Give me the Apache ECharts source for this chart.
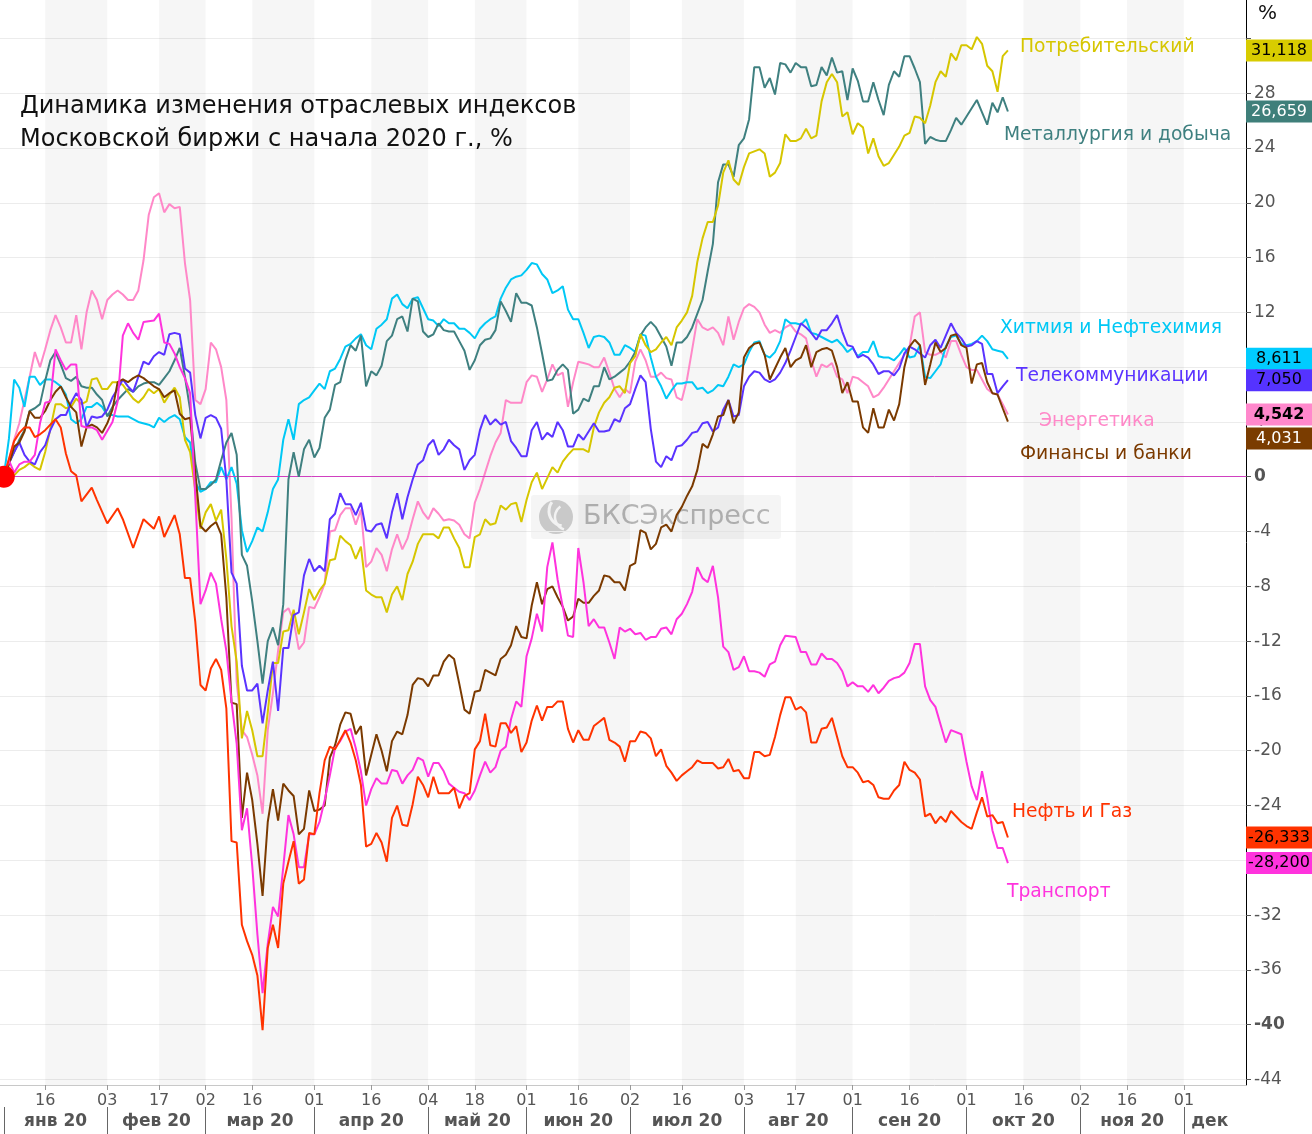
<!DOCTYPE html>
<html><head><meta charset="utf-8">
<script src="https://cdn.jsdelivr.net/npm/echarts@6/dist/echarts.min.js"></script>
<style>html,body{margin:0;padding:0;background:#fff}#c{width:1312px;height:1134px}</style>
</head><body><div id="c"></div><script>
// x = trading-day index since 03.01.2020, y = % change
const dayTickIdx  = [8,20,30,39,48,60,71,82,91,101,111,121,131,143,153,164,175,186,197,208,217,228];
const dayTickText = ['16','03','17','02','16','01','16','04','18','01','16','02','16','03','17','01','16','01','16','02','16','01'];
const monthStartIdx = [0,20,39,60,82,101,121,143,164,186,208,228];
const monthLabelIdx = [10,29.5,49.5,71,91.5,111,132,153.5,175,197,218,233];
const monthNames = ['янв 20','фев 20','мар 20','апр 20','май 20','июн 20','июл 20','авг 20','сен 20','окт 20','ноя 20','дек'];
const yTicks = [-44,-40,-36,-32,-28,-24,-20,-16,-12,-8,-4,0,4,8,12,16,20,24,28,32];
const yLabels = [-44,-40,-36,-32,-28,-24,-20,-16,-12,-8,-4,0,4,8,12,16,20,24,28];

const consumer = [[0,0],[1,0.7],[2,0.1],[3,0.5],[4,0.7],[5,1.0],[6,0.7],[7,0.5],[8,1.8],[9,3.5],[10,5.3],[11,5.3],[12,5.0],[13,5.1],[14,5.7],[15,5.3],[16,5.5],[17,7.1],[18,7.2],[19,6.4],[20,6.4],[21,6.9],[22,6.9],[23,6.7],[24,6.2],[25,5.7],[26,5.4],[27,5.8],[28,6.4],[29,6.1],[30,6.4],[31,5.4],[32,6.0],[33,6.5],[34,5.8],[35,2.7],[36,1.8],[37,-1.0],[38,-3.8],[39,-2.6],[40,-2.0],[41,-3.2],[42,-2.4],[43,-6.0],[44,-10.9],[45,-13.5],[46,-19.1],[47,-17.1],[48,-18.5],[49,-20.4],[50,-20.4],[51,-17.2],[52,-13.6],[53,-13.6],[54,-11.3],[55,-11.2],[56,-9.7],[57,-11.5],[58,-9.9],[59,-8.2],[60,-9.0],[61,-8.3],[62,-7.8],[63,-6.1],[64,-6.0],[65,-4.3],[66,-4.7],[67,-5.0],[68,-6.0],[69,-5.1],[70,-8.3],[71,-8.6],[72,-8.8],[73,-8.8],[74,-9.9],[75,-8.6],[76,-8.0],[77,-9.0],[78,-7.1],[79,-6.2],[80,-4.9],[81,-4.2],[82,-4.2],[83,-4.2],[84,-4.5],[85,-3.7],[86,-3.7],[87,-4.5],[88,-5.2],[89,-6.6],[90,-6.6],[91,-4.4],[92,-4.2],[93,-3.1],[94,-3.5],[95,-3.4],[96,-2.1],[97,-2.4],[98,-2.0],[99,-1.9],[100,-3.3],[101,-1.7],[102,-0.4],[103,0.3],[104,-0.9],[105,-0.1],[106,0.7],[107,0.3],[108,1.1],[109,1.6],[110,2.0],[111,2.0],[112,2.0],[113,1.8],[114,3.6],[115,4.7],[116,5.4],[117,5.8],[118,6.5],[119,6.6],[120,6.1],[121,8.3],[122,8.8],[123,10.4],[124,9.6],[125,9.1],[126,9.3],[127,9.8],[128,10.2],[129,9.6],[130,10.9],[131,11.4],[132,12.0],[133,13.2],[134,15.7],[135,17.4],[136,18.6],[137,18.6],[138,19.8],[139,22.2],[140,23.1],[141,21.7],[142,21.3],[143,22.6],[144,23.6],[146,23.9],[147,23.6],[148,21.9],[149,22.2],[150,22.9],[151,25.0],[152,24.5],[153,24.5],[154,24.7],[155,25.4],[156,24.7],[157,24.9],[158,27.4],[159,28.8],[160,29.4],[161,28.8],[162,26.3],[163,26.6],[164,25.0],[165,25.8],[166,25.5],[167,23.6],[168,24.7],[169,23.4],[170,22.7],[171,22.9],[172,23.5],[173,24.1],[174,24.9],[175,25.1],[176,26.3],[177,26.2],[178,25.8],[179,27.1],[180,28.8],[181,29.6],[182,29.2],[183,30.9],[184,30.4],[185,31.5],[186,31.5],[187,31.2],[188,32.1],[189,31.6],[190,30.0],[191,29.6],[192,28.1],[193,30.7],[194,31.118]];

const metals = [[0,0],[1,1.0],[2,1.8],[3,2.7],[4,3.4],[5,4.8],[6,5.0],[7,5.3],[8,7.0],[9,8.5],[10,9.1],[11,8.2],[12,7.2],[13,7.0],[14,7.3],[15,6.6],[16,6.5],[17,6.5],[18,6.0],[19,5.6],[20,4.4],[21,5.1],[22,5.6],[23,6.0],[24,6.4],[25,6.2],[26,6.6],[27,6.8],[28,6.9],[29,6.9],[30,6.7],[31,7.2],[32,7.7],[33,8.5],[34,9.4],[35,7.3],[36,4.9],[37,1.0],[38,-0.9],[39,-0.9],[40,-0.6],[41,-0.2],[42,1.2],[43,2.5],[44,3.2],[45,1.6],[46,-5.7],[47,-6.5],[48,-9.1],[49,-12.0],[50,-15.1],[51,-12.0],[52,-11.0],[53,-12.3],[54,-9.3],[55,-0.2],[56,1.8],[57,0],[58,2.0],[59,2.7],[60,1.4],[61,2.1],[62,4.3],[63,4.9],[64,6.7],[65,6.9],[66,8.5],[67,9.6],[68,9.2],[69,10.3],[70,6.6],[71,7.7],[72,7.4],[73,8.1],[74,9.9],[75,10.3],[76,11.5],[77,11.7],[78,10.6],[79,13.0],[80,12.8],[81,10.6],[82,10.2],[83,10.4],[84,11.2],[85,10.7],[86,10.6],[87,10.6],[88,9.9],[89,9.2],[90,7.8],[91,8.5],[92,9.6],[93,10.0],[94,10.1],[95,10.7],[96,12.8],[97,12.1],[98,11.3],[99,13.4],[100,12.7],[101,12.7],[102,12.5],[103,10.9],[104,9.0],[105,7.0],[106,7.1],[107,7.8],[108,8.2],[109,7.8],[110,4.6],[111,4.9],[112,5.7],[113,5.5],[114,6.6],[115,6.6],[116,8.0],[117,7.1],[118,7.3],[119,7.6],[120,7.9],[121,8.4],[122,9.1],[123,10.3],[124,10.9],[125,11.3],[126,10.9],[127,10.2],[128,9.5],[129,8.1],[130,9.8],[131,9.8],[132,10.2],[133,10.9],[134,11.9],[135,12.9],[136,15.0],[137,17.0],[138,21.5],[139,22.8],[140,22.8],[141,21.9],[142,24.2],[143,24.7],[144,26.1],[145,29.9],[146,29.9],[147,28.4],[148,29.1],[149,27.9],[150,30.2],[151,30.1],[152,29.5],[153,30.2],[154,29.9],[155,29.9],[156,28.5],[157,28.6],[158,29.9],[159,29.3],[160,30.6],[161,29.5],[162,29.6],[163,27.5],[164,29.8],[165,28.9],[166,27.4],[167,27.4],[168,28.8],[169,27.5],[170,26.4],[171,28.6],[172,29.6],[173,29.2],[174,30.7],[175,30.7],[176,29.8],[177,28.8],[178,24.3],[179,24.8],[180,24.6],[181,24.5],[182,24.5],[183,25.3],[184,26.2],[185,25.7],[186,26.3],[187,26.9],[188,27.5],[189,26.6],[190,25.7],[191,27.3],[192,26.6],[193,27.7],[194,26.659]];

const chem = [[0,0],[1,2.8],[2,7.1],[3,6.5],[4,5.1],[5,7.3],[6,7.3],[7,6.7],[8,7.1],[9,7.1],[10,6.9],[11,6.6],[12,6.0],[13,4.2],[14,3.9],[15,4.2],[16,5.1],[17,5.1],[18,5.4],[19,5.1],[20,4.5],[21,4.5],[22,4.4],[24,4.4],[25,4.2],[26,4.0],[28,3.8],[29,3.6],[30,4.3],[31,4.0],[32,4.3],[33,4.5],[34,4.2],[35,2.9],[36,2.5],[37,-0.4],[38,-1.1],[39,-0.9],[40,-0.4],[41,-0.4],[42,0.7],[43,-0.2],[44,0.7],[45,-0.5],[46,-3.9],[47,-5.5],[48,-4.7],[49,-3.7],[50,-4.0],[51,-2.6],[52,-0.9],[53,-0.2],[54,2.7],[55,4.2],[56,2.7],[57,5.3],[58,5.6],[59,5.8],[60,6.3],[61,6.8],[62,6.4],[63,7.7],[64,7.9],[65,8.6],[66,9.5],[67,9.7],[68,10.1],[69,10.4],[70,9.6],[71,9.3],[72,10.8],[73,11.1],[74,11.5],[75,13.0],[76,13.3],[77,12.6],[78,12.3],[79,13.0],[80,13.1],[81,12.3],[82,11.5],[83,11.4],[84,11.0],[85,11.5],[86,11.2],[87,11.2],[88,10.8],[89,10.8],[90,10.5],[91,10.1],[92,10.8],[93,11.2],[94,11.5],[95,11.7],[96,13.0],[97,13.8],[98,14.4],[99,14.6],[100,14.7],[101,15.1],[102,15.6],[103,15.5],[104,14.8],[105,14.4],[106,13.4],[107,13.6],[108,13.9],[109,12.2],[110,11.5],[111,11.5],[112,10.5],[113,9.4],[114,10.2],[115,10.3],[116,10.2],[117,9.8],[118,8.9],[119,8.9],[120,9.6],[121,9.4],[122,9.1],[123,10.4],[124,10.3],[125,8.7],[126,7.3],[127,6.6],[128,5.7],[129,6.3],[130,6.8],[131,6.8],[132,6.9],[133,6.9],[134,6.4],[135,6.5],[136,6.1],[137,6.3],[138,6.7],[139,6.6],[140,7.3],[141,8.2],[142,8.0],[143,8.2],[144,9.1],[145,9.8],[146,9.9],[147,8.9],[148,8.7],[149,9.1],[150,9.9],[151,11.5],[152,11.2],[153,11.2],[154,11.1],[155,11.5],[156,10.5],[157,10.4],[158,10.2],[159,10.0],[160,9.8],[161,10.0],[162,9.6],[163,9.1],[164,9.4],[165,8.8],[166,9.1],[167,9.1],[168,9.9],[169,8.8],[170,8.7],[171,8.7],[172,8.5],[173,8.9],[174,9.4],[175,8.7],[176,8.8],[177,9.6],[178,7.3],[179,7.2],[180,7.7],[181,8.2],[182,9.5],[183,10.2],[184,10.3],[185,9.7],[186,9.6],[187,9.7],[188,9.9],[189,10.3],[190,9.9],[191,9.3],[192,9.2],[193,9.1],[194,8.611]];

const telecom = [[0,0],[1,1.0],[2,1.8],[3,2.5],[4,1.6],[5,1.1],[6,0.9],[7,1.8],[8,2.3],[9,3.4],[10,4.2],[11,4.5],[12,4.5],[13,5.4],[14,6.1],[15,5.6],[16,3.6],[17,4.4],[18,4.3],[19,4.4],[20,4.9],[21,5.8],[22,6.4],[23,7.1],[24,6.6],[25,6.2],[26,7.3],[27,8.4],[28,8.2],[29,8.8],[30,9.1],[31,8.9],[32,10.4],[33,10.5],[34,10.4],[35,7.9],[36,7.6],[37,4.5],[38,2.8],[39,4.3],[40,4.5],[41,4.3],[42,3.5],[43,-0.2],[44,-7.0],[45,-7.8],[46,-13.8],[47,-15.6],[48,-15.6],[49,-15.1],[50,-18.0],[51,-15.6],[52,-13.5],[53,-17.1],[54,-12.5],[55,-12.5],[56,-10.1],[57,-9.9],[58,-7.2],[59,-6.0],[60,-6.9],[61,-6.5],[62,-6.9],[63,-3.1],[64,-2.7],[65,-1.2],[66,-2.0],[67,-2.0],[68,-2.8],[69,-1.9],[70,-3.9],[71,-4.0],[72,-3.5],[73,-3.4],[74,-4.5],[75,-2.6],[76,-1.2],[77,-3.1],[78,-1.5],[79,-0.2],[80,0.9],[81,1.2],[82,2.3],[83,2.7],[84,1.6],[85,2.0],[86,2.7],[87,2.3],[88,2.0],[89,0.5],[90,1.2],[91,1.6],[92,3.4],[93,4.5],[94,3.8],[95,4.2],[96,3.8],[97,4.0],[98,2.6],[99,2.1],[100,1.5],[101,1.5],[102,3.4],[103,4.0],[104,2.7],[105,3.2],[106,2.9],[107,4.0],[108,3.4],[109,2.2],[110,2.2],[111,3.1],[112,2.7],[113,3.3],[114,3.9],[115,3.3],[116,3.3],[117,3.4],[118,4.2],[119,4.0],[120,5.0],[121,5.3],[122,6.4],[123,7.4],[124,6.9],[125,3.5],[126,1.1],[127,0.7],[128,1.5],[129,1.2],[130,2.2],[131,2.3],[132,2.7],[133,3.2],[134,3.3],[135,3.9],[136,4.0],[137,3.3],[138,3.6],[139,4.9],[140,5.6],[141,4.4],[142,4.5],[143,6.6],[144,7.3],[145,7.7],[146,7.6],[147,7.1],[148,6.9],[149,7.1],[150,7.6],[151,8.3],[152,9.2],[153,10.2],[154,11.2],[155,10.9],[156,10.5],[157,10.0],[158,10.7],[159,10.7],[160,11.2],[161,11.8],[162,10.6],[163,9.6],[164,9.5],[165,8.7],[166,8.9],[167,8.7],[168,8.2],[169,7.5],[170,7.7],[171,7.7],[172,7.4],[173,7.9],[174,9.0],[175,9.5],[176,9.3],[177,9.0],[178,8.7],[179,9.6],[180,10.0],[181,9.4],[182,10.3],[183,11.2],[184,10.5],[185,10.1],[186,9.5],[187,9.6],[188,9.9],[189,9.7],[190,7.5],[191,7.5],[192,6.1],[193,6.6],[194,7.05]];

const energy = [[0,0],[1,1.2],[2,2.7],[3,3.9],[4,5.6],[5,7.3],[6,9.1],[7,8.0],[8,9.3],[9,10.7],[10,11.8],[11,10.9],[12,9.8],[13,9.8],[14,11.8],[15,9.3],[16,12.0],[17,13.6],[18,12.9],[19,11.5],[20,12.9],[21,13.3],[22,13.6],[23,13.3],[24,12.9],[25,12.9],[26,13.6],[27,15.8],[28,19.1],[29,20.4],[30,20.7],[31,19.3],[32,19.9],[33,19.6],[34,19.7],[35,15.6],[36,12.9],[37,5.6],[38,5.3],[39,6.4],[40,9.8],[41,9.3],[42,8.0],[43,5.6],[44,-3.0],[45,-15.0],[46,-18.5],[47,-19.0],[48,-20.3],[49,-21.8],[50,-24.6],[51,-18.5],[52,-15.8],[53,-12.7],[54,-9.9],[55,-9.6],[56,-10.5],[57,-12.6],[58,-12.1],[59,-9.5],[60,-9.6],[61,-8.8],[62,-7.8],[63,-4.0],[64,-3.9],[65,-2.8],[66,-2.3],[67,-2.3],[68,-3.5],[69,-2.4],[70,-6.6],[71,-6.2],[72,-5.2],[73,-5.7],[74,-6.9],[75,-5.3],[76,-4.2],[77,-5.3],[78,-4.5],[79,-3.1],[80,-1.8],[81,-2.6],[82,-3.1],[83,-2.3],[84,-2.7],[85,-3.2],[86,-3.1],[87,-3.2],[88,-3.5],[89,-4.2],[90,-4.5],[91,-1.9],[92,-0.9],[93,0.3],[94,1.5],[95,2.5],[96,3.2],[97,5.6],[98,5.4],[100,5.4],[101,6.9],[102,7.4],[103,7.3],[104,6.2],[105,7.1],[106,8.2],[107,7.4],[108,7.6],[109,5.1],[110,6.9],[111,8.4],[112,8.3],[113,8.2],[114,8.0],[115,8.0],[116,8.7],[117,7.6],[118,6.4],[119,5.8],[120,6.4],[121,6.1],[122,8.4],[123,9.3],[124,8.5],[125,7.3],[126,7.3],[127,7.6],[128,7.2],[129,7.1],[130,5.8],[131,5.6],[132,7.1],[133,9.3],[134,11.5],[135,10.9],[136,10.7],[137,10.9],[138,10.5],[139,9.6],[140,11.7],[141,10.0],[142,11.3],[143,12.3],[144,12.6],[145,12.4],[146,12.0],[147,11.1],[148,10.5],[149,10.7],[150,10.5],[151,10.9],[152,11.1],[153,10.6],[154,10.4],[155,10.1],[156,8.5],[157,7.3],[158,8.2],[159,8.0],[160,8.3],[161,7.3],[162,7.1],[163,6.1],[164,7.3],[165,7.2],[166,6.9],[167,6.6],[168,5.8],[169,6.0],[170,6.5],[171,7.1],[172,7.7],[173,8.3],[174,8.9],[175,9.5],[176,11.7],[177,12.0],[178,9.1],[179,8.9],[180,8.9],[181,9.1],[182,8.7],[183,9.9],[184,9.9],[185,8.9],[186,8.0],[187,7.8],[188,7.8],[189,7.1],[190,6.4],[191,6.1],[192,6.0],[193,5.3],[194,4.542]];

const finance = [[0,0],[1,0.9],[2,2.2],[3,2.5],[4,3.3],[5,4.8],[6,4.3],[7,4.3],[8,4.8],[9,5.6],[10,6.2],[11,6.6],[12,5.8],[13,5.1],[14,4.7],[15,2.2],[16,3.6],[17,3.8],[18,3.6],[19,3.2],[20,3.9],[21,4.9],[22,6.9],[23,7.1],[24,6.9],[25,7.2],[26,7.4],[27,7.2],[28,6.9],[29,6.6],[30,6.4],[31,5.8],[32,6.1],[33,6.3],[34,4.6],[35,4.2],[36,4.3],[37,0.3],[38,-3.6],[39,-4.0],[40,-3.6],[41,-3.3],[42,-4.2],[43,-8.8],[44,-16.5],[45,-16.6],[46,-24.9],[47,-21.6],[48,-23.6],[49,-26.8],[50,-30.6],[51,-25.2],[52,-22.8],[53,-25.1],[54,-22.4],[55,-22.9],[56,-23.3],[57,-26.1],[58,-25.7],[59,-22.9],[60,-24.4],[61,-24.3],[62,-24.0],[63,-20.5],[64,-19.6],[65,-18.1],[66,-17.2],[67,-17.3],[68,-18.8],[69,-18.2],[70,-21.8],[71,-20.3],[72,-18.8],[73,-20.0],[74,-21.5],[75,-19.3],[76,-18.6],[77,-18.8],[78,-17.4],[79,-15.2],[80,-14.7],[81,-14.8],[82,-15.3],[83,-14.5],[84,-14.5],[85,-13.5],[86,-13.0],[87,-13.3],[88,-15.1],[89,-17.0],[90,-17.3],[91,-15.7],[92,-15.6],[93,-14.1],[94,-14.3],[95,-14.5],[96,-13.3],[97,-13.0],[98,-12.3],[99,-10.9],[100,-11.7],[101,-11.8],[102,-9.4],[103,-7.7],[104,-9.3],[105,-8.2],[106,-8.0],[107,-8.8],[108,-9.5],[109,-10.5],[110,-10.2],[111,-8.9],[112,-9.2],[113,-9.2],[114,-8.7],[115,-8.3],[116,-7.2],[117,-7.3],[118,-7.7],[119,-7.7],[120,-8.3],[121,-6.5],[122,-6.3],[123,-3.9],[124,-4.1],[125,-5.3],[126,-4.9],[127,-3.7],[128,-3.5],[129,-4.0],[130,-2.8],[131,-2.2],[132,-1.4],[133,-0.7],[134,0.5],[135,2.4],[136,2.1],[137,3.1],[138,4.4],[139,4.5],[140,5.6],[141,3.9],[142,4.7],[143,8.7],[144,9.4],[145,9.7],[146,9.8],[147,8.9],[148,7.1],[149,7.9],[150,8.7],[151,9.4],[152,8.0],[153,8.5],[154,8.7],[155,9.6],[156,8.0],[157,9.1],[158,9.3],[159,9.4],[160,9.2],[161,8.0],[162,6.1],[163,6.9],[164,5.5],[165,5.5],[166,3.6],[167,3.2],[168,5.0],[169,3.6],[170,3.6],[171,4.9],[172,4.1],[173,5.3],[174,8.0],[175,9.5],[176,10.0],[177,9.6],[178,6.7],[179,8.2],[180,9.8],[181,9.1],[182,9.4],[183,10.3],[184,10.4],[185,9.6],[186,9.4],[187,6.8],[188,8.2],[189,8.3],[190,6.9],[191,6.1],[192,6.0],[193,5.0],[194,4.031]];

const oilGas = [[0,0],[2,2.6],[3,3.2],[4,3.6],[5,3.6],[6,2.9],[7,3.1],[8,3.4],[9,3.8],[10,4.2],[11,3.6],[12,1.7],[13,0.4],[14,0.1],[15,-1.8],[17,-0.8],[18,-1.7],[20,-3.4],[22,-2.3],[23,-3.1],[25,-5.2],[27,-3.1],[29,-3.8],[30,-2.9],[31,-4.4],[33,-2.8],[34,-4.2],[35,-7.4],[36,-7.4],[37,-10.6],[38,-15.2],[39,-15.6],[40,-14.0],[41,-13.3],[42,-14.1],[43,-16.9],[44,-26.6],[45,-26.7],[46,-32.7],[47,-33.9],[48,-34.9],[49,-36.4],[50,-40.4],[51,-34.4],[52,-32.7],[53,-34.4],[54,-29.7],[55,-28.1],[56,-26.6],[57,-29.7],[58,-29.4],[59,-26.0],[60,-26.1],[61,-23.1],[62,-20.7],[63,-19.7],[64,-19.9],[66,-18.5],[67,-19.4],[68,-20.7],[69,-22.5],[70,-27.0],[71,-26.8],[72,-26.0],[73,-26.7],[74,-28.1],[75,-24.9],[76,-24.0],[77,-25.4],[78,-25.5],[79,-23.9],[80,-21.9],[81,-22.5],[82,-23.4],[83,-21.9],[84,-23.1],[86,-23.1],[87,-22.7],[88,-24.2],[89,-23.3],[90,-23.1],[91,-19.9],[92,-19.3],[93,-17.3],[94,-19.6],[95,-19.7],[96,-18.0],[97,-18.0],[98,-18.7],[99,-18.2],[100,-20.1],[101,-19.4],[102,-17.8],[103,-16.7],[104,-17.8],[105,-16.8],[106,-16.8],[107,-16.4],[108,-16.4],[109,-18.4],[110,-19.4],[111,-18.5],[112,-19.2],[113,-19.2],[114,-18.2],[115,-17.9],[116,-17.6],[117,-19.2],[118,-19.4],[119,-19.7],[120,-20.8],[121,-19.3],[122,-19.3],[123,-18.6],[124,-18.7],[125,-19.1],[126,-20.4],[127,-19.9],[128,-21.1],[129,-21.6],[130,-22.2],[131,-21.8],[132,-21.5],[133,-21.2],[134,-20.7],[135,-20.9],[137,-20.9],[138,-21.3],[139,-21.2],[140,-20.6],[141,-21.5],[142,-21.4],[143,-22.0],[144,-22.0],[145,-20.1],[146,-20.1],[147,-20.4],[148,-20.3],[149,-19.0],[150,-17.4],[151,-16.1],[152,-16.1],[153,-17.0],[154,-16.8],[155,-17.2],[156,-19.4],[157,-19.4],[158,-18.4],[159,-18.3],[160,-17.6],[161,-19.0],[162,-20.4],[163,-21.2],[164,-21.2],[165,-21.6],[166,-22.3],[167,-22.2],[168,-22.5],[169,-23.4],[170,-23.5],[171,-23.5],[172,-22.9],[173,-22.5],[174,-20.8],[175,-21.4],[176,-21.6],[177,-22.1],[178,-24.8],[179,-24.6],[180,-25.3],[181,-24.8],[182,-25.2],[183,-24.4],[184,-24.8],[185,-25.2],[186,-25.5],[187,-25.7],[188,-24.5],[189,-23.4],[190,-24.8],[191,-24.7],[192,-25.3],[193,-25.2],[194,-26.333]];

const transport = [[0,0],[1,1.2],[2,0.3],[3,0.9],[4,1.1],[5,1.1],[6,1.6],[7,3.9],[8,5.4],[9,5.5],[10,9.3],[11,8.5],[12,7.8],[13,8.2],[14,8.2],[15,3.7],[16,3.6],[17,3.6],[18,3.4],[19,2.7],[21,4.0],[22,5.5],[23,10.3],[24,11.2],[25,10.5],[26,10.0],[27,11.3],[29,11.4],[30,11.9],[31,9.8],[32,9.7],[33,9.0],[34,8.0],[35,7.2],[36,6.1],[37,-1.5],[38,-9.3],[39,-8.3],[40,-7.0],[41,-7.8],[42,-10.4],[43,-12.7],[44,-16.4],[45,-19.5],[46,-25.8],[47,-24.2],[48,-28.4],[49,-33.4],[50,-37.7],[51,-34.1],[52,-31.4],[53,-32.1],[54,-28.5],[55,-24.7],[56,-26.1],[57,-28.5],[58,-28.5],[59,-26.1],[60,-26.1],[61,-25.2],[62,-23.6],[63,-21.8],[64,-19.8],[65,-19.3],[66,-18.6],[67,-18.4],[68,-19.8],[69,-21.5],[70,-24.0],[71,-22.8],[72,-22.0],[73,-22.4],[74,-22.4],[75,-21.4],[76,-21.5],[77,-22.4],[78,-21.8],[79,-21.4],[80,-20.5],[81,-20.7],[82,-21.9],[83,-20.9],[84,-20.9],[85,-21.5],[86,-22.4],[87,-22.7],[88,-23.0],[89,-23.1],[90,-23.6],[91,-22.9],[92,-21.8],[93,-20.8],[94,-21.6],[95,-21.2],[96,-20.0],[97,-19.7],[98,-17.7],[99,-16.4],[100,-16.8],[101,-13.1],[102,-11.8],[103,-10.0],[104,-11.3],[105,-6.6],[106,-4.8],[107,-7.5],[108,-9.5],[109,-11.6],[110,-11.7],[111,-5.2],[112,-7.7],[113,-10.9],[114,-10.4],[115,-11.0],[116,-11.0],[117,-12.1],[118,-13.3],[119,-11.0],[120,-11.3],[121,-11.1],[122,-11.5],[123,-11.4],[124,-11.9],[125,-11.7],[126,-11.7],[127,-11.1],[128,-11.0],[129,-11.5],[130,-10.4],[131,-10.0],[132,-9.3],[133,-8.4],[134,-6.6],[135,-7.4],[136,-7.7],[137,-6.5],[138,-8.8],[139,-12.4],[140,-12.8],[141,-14.1],[142,-13.9],[143,-13.1],[144,-14.2],[145,-14.2],[146,-14.3],[147,-14.6],[148,-13.7],[149,-13.5],[150,-12.3],[151,-11.6],[153,-11.7],[154,-12.8],[155,-12.8],[156,-13.7],[157,-13.7],[158,-12.9],[159,-13.3],[160,-13.3],[161,-13.6],[162,-14.2],[163,-15.3],[164,-15.0],[165,-15.3],[166,-15.3],[167,-15.7],[168,-15.2],[169,-15.8],[170,-15.4],[171,-14.9],[172,-14.7],[173,-14.6],[174,-14.3],[175,-13.6],[176,-12.2],[177,-12.2],[178,-15.3],[179,-16.3],[180,-16.8],[181,-18.1],[182,-19.4],[183,-18.5],[185,-18.8],[186,-20.8],[187,-22.6],[188,-23.6],[189,-21.5],[190,-23.4],[191,-25.8],[192,-27.1],[193,-27.1],[194,-28.2]];

const X_MIN = -0.73, X_MAX = 240, Y_MIN = -44.4, Y_MAX = 34.8;
const FONT = 'DejaVu Sans';

const defs = [
  {name:'Энергетика', data:energy, color:'#ff88c8', box:'#ff88cc', txt:'#000', bold:true, dy:0},
  {name:'Хитмия и Нефтехимия', data:chem, color:'#00c8f5', box:'#00ccff', txt:'#000', bold:false, dy:0},
  {name:'Металлургия и добыча', data:metals, color:'#3f8080', box:'#3f7f7a', txt:'#fff', bold:false, dy:0},
  {name:'Потребительский', data:consumer, color:'#d6c600', box:'#d8cc00', txt:'#000', bold:false, dy:0},
  {name:'Телекоммуникации', data:telecom, color:'#5a33ff', box:'#5533ff', txt:'#000', bold:false, dy:0},
  {name:'Финансы и банки', data:finance, color:'#7b3a00', box:'#7a3c00', txt:'#fff', bold:false, dy:17},
  {name:'Транспорт', data:transport, color:'#ff33dd', box:'#ff33dd', txt:'#000', bold:false, dy:0},
  {name:'Нефть и Газ', data:oilGas, color:'#ff3300', box:'#ff3300', txt:'#000', bold:false, dy:0}
];

const bands = [];
for (let i = 0; i + 1 < dayTickIdx.length; i += 2) {
  bands.push([{xAxis: dayTickIdx[i]}, {xAxis: dayTickIdx[i + 1]}]);
}

const series = defs.map((d, i) => {
  const last = d.data[d.data.length - 1][1];
  const s = {
    name: d.name, type: 'line', data: d.data, symbol: 'none', clip: false,
    lineStyle: {color: d.color, width: 2}, itemStyle: {color: d.color},
    z: 3 + i,
    markPoint: {
      symbol: 'rect', symbolSize: [66, 22], symbolOffset: [33, d.dy], silent: true,
      data: [{coord: [X_MAX, last]}],
      itemStyle: {color: d.box, opacity: 1},
      label: {show: true, position: 'inside', color: d.txt, fontSize: 16, fontFamily: FONT,
        fontWeight: d.bold ? 'bold' : 'normal',
        formatter: () => last.toFixed(3).replace('.', ',')}
    }
  };
  if (i === 0) {
    s.markArea = {silent: true, itemStyle: {color: 'rgba(0,0,0,0.035)'}, data: bands};
    s.markLine = {silent: true, symbol: 'none', label: {show: false},
      lineStyle: {color: '#d040c0', width: 1, type: 'solid'}, data: [{yAxis: 0}]};
  }
  return s;
});
series.push({type: 'scatter', data: [[0, 0]], symbolSize: 22, itemStyle: {color: '#ff0000', opacity: 1}, z: 20, clip: false, silent: true});

const annotations = [
  {t:'Потребительский', x:1020, y:47, c:'#d6c600'},
  {t:'Металлургия и добыча', x:1004, y:135, c:'#3f8080'},
  {t:'Хитмия и Нефтехимия', x:1000, y:328, c:'#00c8f5'},
  {t:'Телекоммуникации', x:1016, y:376, c:'#5a33ff'},
  {t:'Энергетика', x:1039, y:421, c:'#ff88c8'},
  {t:'Финансы и банки', x:1020, y:454, c:'#7b3a00'},
  {t:'Нефть и Газ', x:1012, y:812, c:'#ff3300'},
  {t:'Транспорт', x:1007, y:892, c:'#ff33dd'}
];

const graphic = [
  {type:'text', left:20, top:90, z:50, style:{text:'Динамика изменения отраслевых индексов\nМосковской биржи с начала 2020 г., %', font:'24px "DejaVu Sans"', fill:'#111', lineHeight:33}},
  {type:'text', left:1258, top:4, z:50, style:{text:'%', font:'20px "DejaVu Sans"', fill:'#111'}},
  {type:'group', left:531, top:495, z:1, children:[
    {type:'rect', shape:{x:0, y:0, width:250, height:44, r:3}, style:{fill:'rgba(225,225,225,0.35)'}},
    {type:'circle', shape:{cx:25, cy:22, r:17}, style:{fill:'#c9c9c9'}},
    {type:'arc', shape:{cx:33, cy:16, r:15, startAngle:Math.PI*0.55, endAngle:Math.PI*1.2}, style:{stroke:'#f2f2f2', lineWidth:3, fill:null}},
    {type:'arc', shape:{cx:37, cy:22, r:13, startAngle:Math.PI*0.6, endAngle:Math.PI*1.3}, style:{stroke:'#f2f2f2', lineWidth:2.5, fill:null}},
    {type:'text', x:52, y:22, style:{text:'БКСЭкспресс', font:'27px "DejaVu Sans"', fill:'#b4b4b4', verticalAlign:'middle'}}
  ]}
];
annotations.forEach(a => graphic.push({type:'text', x:a.x, y:a.y, z:50,
  style:{text:a.t, font:'18.7px "DejaVu Sans"', fill:a.c, verticalAlign:'middle'}}));

const chart = echarts.init(document.getElementById('c'), null, {renderer: 'canvas'});
chart.setOption({
  animation: false,
  backgroundColor: '#ffffff',
  textStyle: {fontFamily: FONT},
  grid: {left: 0, right: 66, top: 0, bottom: 49, containLabel: false},
  xAxis: [
    {type: 'value', min: X_MIN, max: X_MAX, position: 'bottom',
     axisLine: {show: true, onZero: false, lineStyle: {color: '#c8c8c8', width: 1}},
     axisTick: {show: true, customValues: dayTickIdx, length: 5, lineStyle: {color: '#999'}},
     axisLabel: {customValues: dayTickIdx, margin: 8, color: '#555', fontSize: 16, fontFamily: FONT,
       formatter: v => dayTickText[dayTickIdx.indexOf(v)] || ''},
     splitLine: {show: false}},
    {type: 'value', min: X_MIN, max: X_MAX, position: 'bottom', offset: 22,
     axisLine: {show: false, onZero: false},
     axisTick: {show: true, customValues: monthStartIdx, length: 27, lineStyle: {color: '#666'}},
     axisLabel: {customValues: monthLabelIdx, margin: 6, color: '#555', fontSize: 17, fontWeight: 'bold', fontFamily: FONT,
       formatter: v => monthNames[monthLabelIdx.indexOf(v)] || ''},
     splitLine: {show: false}}
  ],
  yAxis: {type: 'value', min: Y_MIN, max: Y_MAX, position: 'right',
    axisLine: {show: true, onZero: false, lineStyle: {color: '#000', width: 1}},
    axisTick: {show: true, customValues: yTicks, length: 5, lineStyle: {color: '#555'}},
    axisLabel: {customValues: yLabels, margin: 8, color: '#555', fontSize: 17, fontFamily: FONT,
      formatter: v => (v === 0 || v === -40) ? '{b|' + v + '}' : String(v),
      rich: {b: {fontWeight: 'bold', color: '#555', fontSize: 17, fontFamily: FONT}}},
    splitLine: {show: true, lineStyle: {color: '#ececec', width: 1}}},
  series: series,
  graphic: graphic
});
</script></body></html>
